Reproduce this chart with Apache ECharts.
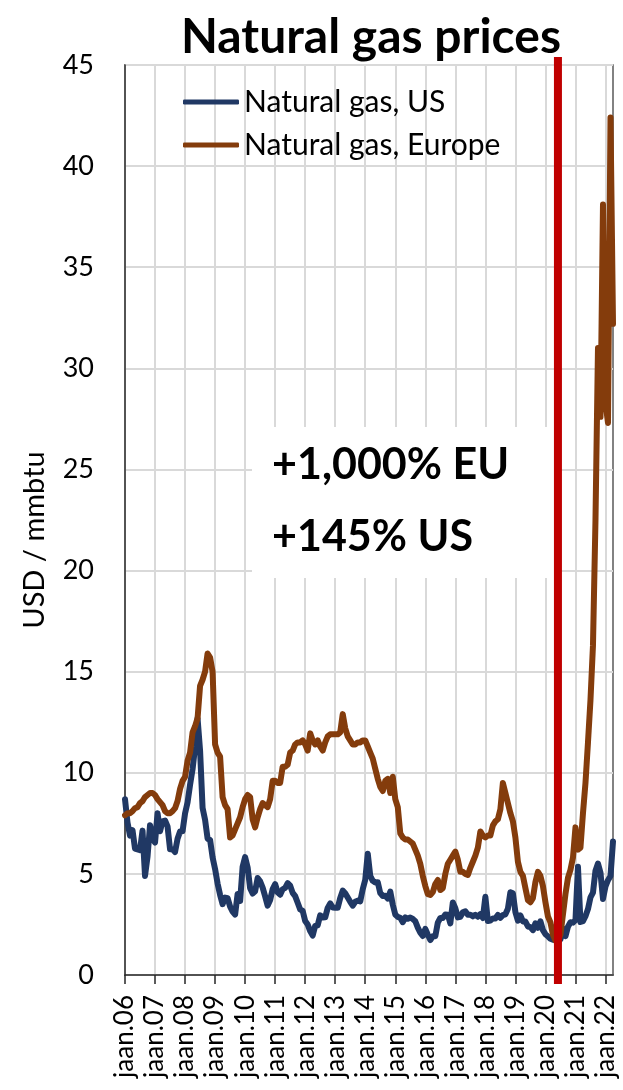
<!DOCTYPE html>
<html><head><meta charset="utf-8">
<script src="https://cdn.jsdelivr.net/npm/echarts@6/dist/echarts.min.js"></script>
<style>html,body{margin:0;padding:0;background:#fff}#c{width:623px;height:1090px}</style>
</head><body><div id="c"></div>
<script>
// Tick labels for the x axis (one per January)
const xTickLabels = ['jaan.06','jaan.07','jaan.08','jaan.09','jaan.10','jaan.11','jaan.12','jaan.13','jaan.14','jaan.15','jaan.16','jaan.17','jaan.18','jaan.19','jaan.20','jaan.21','jaan.22'];
const firstYear = 2006;
const seriesNames = ['Natural gas, US', 'Natural gas, Europe'];
const annotationLines = ['+1,000% EU', '+145% US'];
const markerMonth = '2020-06';

// Monthly prices, USD / mmbtu (Jan 2006 - Apr 2022)
const usPrices = [
  8.69,7.54,6.89,7.16,6.25,6.21,6.17,7.14,4.90,5.85,7.41,6.73,
  6.55,8.00,7.11,7.60,7.64,7.35,6.22,6.22,6.08,6.74,7.10,7.11,
  7.99,8.54,9.41,10.18,11.27,12.69,11.09,8.26,7.67,6.74,6.68,5.82,
  5.24,4.52,3.96,3.50,3.83,3.80,3.38,3.14,2.99,4.01,3.66,5.35,
  5.83,5.32,4.29,4.03,4.14,4.80,4.63,4.32,3.89,3.43,3.71,4.25,
  4.49,4.09,3.97,4.24,4.31,4.54,4.42,4.06,3.90,3.57,3.24,3.17,
  2.67,2.50,2.17,1.95,2.43,2.46,2.95,2.84,2.85,3.32,3.54,3.34,
  3.33,3.33,3.81,4.17,4.04,3.83,3.62,3.43,3.62,3.68,3.64,4.24,
  4.71,6.00,4.90,4.66,4.58,4.59,4.05,3.91,3.92,3.78,4.12,3.48,
  2.99,2.87,2.83,2.61,2.85,2.78,2.84,2.77,2.66,2.34,2.09,1.93,
  2.28,1.99,1.73,1.92,1.92,2.59,2.82,2.82,2.99,2.98,2.55,3.59,
  3.30,2.85,2.88,3.10,3.15,2.98,2.98,2.90,2.98,2.88,3.01,2.82,
  3.87,2.67,2.69,2.80,2.80,2.97,2.83,2.96,3.00,3.28,4.09,4.04,
  3.11,2.69,2.95,2.65,2.64,2.40,2.37,2.22,2.56,2.33,2.65,2.22,
  2.02,1.91,1.79,1.74,1.75,1.63,1.77,2.30,1.92,2.39,2.61,2.59,
  2.71,5.35,2.62,2.66,2.91,3.26,3.84,4.07,5.16,5.51,5.05,3.76,
  4.38,4.69,4.90,6.60
];
const euPrices = [
  7.9,8.0,8.0,8.1,8.25,8.3,8.5,8.6,8.8,8.9,9.0,9.0,
  8.9,8.7,8.55,8.4,8.1,8.0,8.0,8.1,8.25,8.6,9.2,9.6,
  9.8,10.6,11.0,12.0,12.3,12.7,14.3,14.6,15.0,15.9,15.7,15.0,
  11.4,11.0,10.8,8.8,8.4,8.2,6.8,6.9,7.2,7.5,7.8,8.3,
  8.7,8.9,8.8,7.7,7.3,7.8,8.2,8.5,8.4,8.3,8.7,9.6,
  9.6,9.5,9.5,10.3,10.3,10.4,11.0,11.1,11.4,11.5,11.5,11.6,
  11.4,11.1,11.95,11.6,11.4,11.6,11.3,11.1,11.5,11.8,11.9,11.9,
  11.9,11.9,12.0,12.9,12.2,11.8,11.6,11.4,11.4,11.5,11.5,11.6,
  11.6,11.3,11.0,10.7,10.2,9.7,9.3,9.1,9.6,9.7,9.0,9.8,
  8.7,8.3,7.0,6.8,6.7,6.7,6.6,6.5,6.2,5.9,5.5,4.9,
  4.4,4.0,3.96,4.1,4.5,4.7,4.2,4.3,5.0,5.5,5.7,5.9,
  6.1,5.7,5.1,5.1,5.0,4.95,5.3,5.6,5.9,6.3,7.1,6.9,
  6.8,6.9,6.9,7.4,7.6,7.7,8.2,9.5,9.0,8.5,8.0,7.6,
  6.8,5.6,5.1,4.9,4.3,3.7,3.6,3.8,4.6,5.1,4.9,4.4,
  3.6,2.9,2.6,2.0,1.7,1.7,2.0,3.0,4.0,4.8,5.2,5.8,
  7.3,6.2,6.3,8.0,9.5,11.5,13.6,16.3,22.5,31.0,27.6,38.1,
  28.3,27.3,42.4,32.2
];

// category names: one per month, same length as the data
const months = usPrices.map((_, i) => {
  const y = firstYear + Math.floor(i / 12);
  const m = (i % 12) + 1;
  return y + '-' + String(m).padStart(2, '0');
});

const FONT = 'Lato';
const chart = echarts.init(document.getElementById('c'), null, {renderer: 'canvas'});
const everyYear = (idx) => idx % 12 === 0;

chart.setOption({
  animation: false,
  backgroundColor: '#ffffff',
  title: {
    text: 'Natural gas prices',
    left: 366, top: 7, textAlign: 'center',
    textStyle: {fontFamily: FONT, fontWeight: 'bold', fontSize: 48, color: '#000', lineHeight: 52}
  },
  legend: {
    orient: 'vertical', left: 183, top: 87, padding: 0,
    itemWidth: 56, itemHeight: 5, itemGap: 13, icon: 'roundRect',
    textStyle: {fontFamily: FONT, fontSize: 30, color: '#000', lineHeight: 30},
    data: seriesNames
  },
  grid: {left: 125, right: 10, top: 65, bottom: 115, show: true, borderColor: '#404040', borderWidth: 1.3, backgroundColor: 'transparent'},
  xAxis: {
    type: 'category', data: months, boundaryGap: false,
    axisLine: {lineStyle: {color: '#262626', width: 1.5}},
    axisTick: {show: true, interval: (i) => everyYear(i), length: 9, lineStyle: {color: '#262626', width: 1.5}},
    splitLine: {show: true, interval: (i) => everyYear(i), lineStyle: {color: '#d9d9d9', width: 2}},
    axisLabel: {
      interval: (i) => everyYear(i), rotate: 90, margin: 20,
      fontFamily: FONT, fontSize: 26, color: '#000',
      formatter: (v, i) => everyYear(i) ? xTickLabels[i / 12] : ''
    }
  },
  yAxis: {
    type: 'value', min: 0, max: 45, interval: 5,
    name: 'USD / mmbtu', nameLocation: 'middle', nameRotate: 90, nameGap: 76,
    nameTextStyle: {fontFamily: FONT, fontSize: 29, color: '#000', padding: [0, 40, 0, 0]},
    axisLine: {show: true, lineStyle: {color: '#262626', width: 1.5}},
    axisTick: {show: false},
    splitLine: {lineStyle: {color: '#d9d9d9', width: 2}},
    axisLabel: {fontFamily: FONT, fontSize: 27, color: '#000', margin: 31}
  },
  series: [
    {name: seriesNames[0], type: 'line', data: usPrices, showSymbol: false, symbol: 'none',
     lineStyle: {color: '#203864', width: 6, cap: 'round', join: 'round'}, itemStyle: {color: '#203864'}, z: 3},
    {name: seriesNames[1], type: 'line', data: euPrices, showSymbol: false, symbol: 'none',
     lineStyle: {color: '#843C0C', width: 6, cap: 'round', join: 'round'}, itemStyle: {color: '#843C0C'}, z: 4}
  ]
});

const xm = chart.convertToPixel({xAxisIndex: 0}, markerMonth);
const yTop = chart.convertToPixel({yAxisIndex: 0}, 45);
const yBot = chart.convertToPixel({yAxisIndex: 0}, 0);

chart.setOption({
  graphic: [
    {type: 'rect', z: 50, shape: {x: 252, y: 427, width: xm - 252, height: 151}, style: {fill: '#ffffff'}},
    {type: 'text', z: 51, x: 272, y: 465, style: {text: annotationLines[0], font: 'bold 43px Lato', fill: '#000', verticalAlign: 'middle'}},
    {type: 'text', z: 51, x: 272, y: 537, style: {text: annotationLines[1], font: 'bold 43px Lato', fill: '#000', verticalAlign: 'middle'}},
    {type: 'rect', z: 100, shape: {x: xm - 4, y: yTop - 8, width: 8, height: yBot - yTop + 17}, style: {fill: '#C00000'}}
  ]
});
</script></body></html>
